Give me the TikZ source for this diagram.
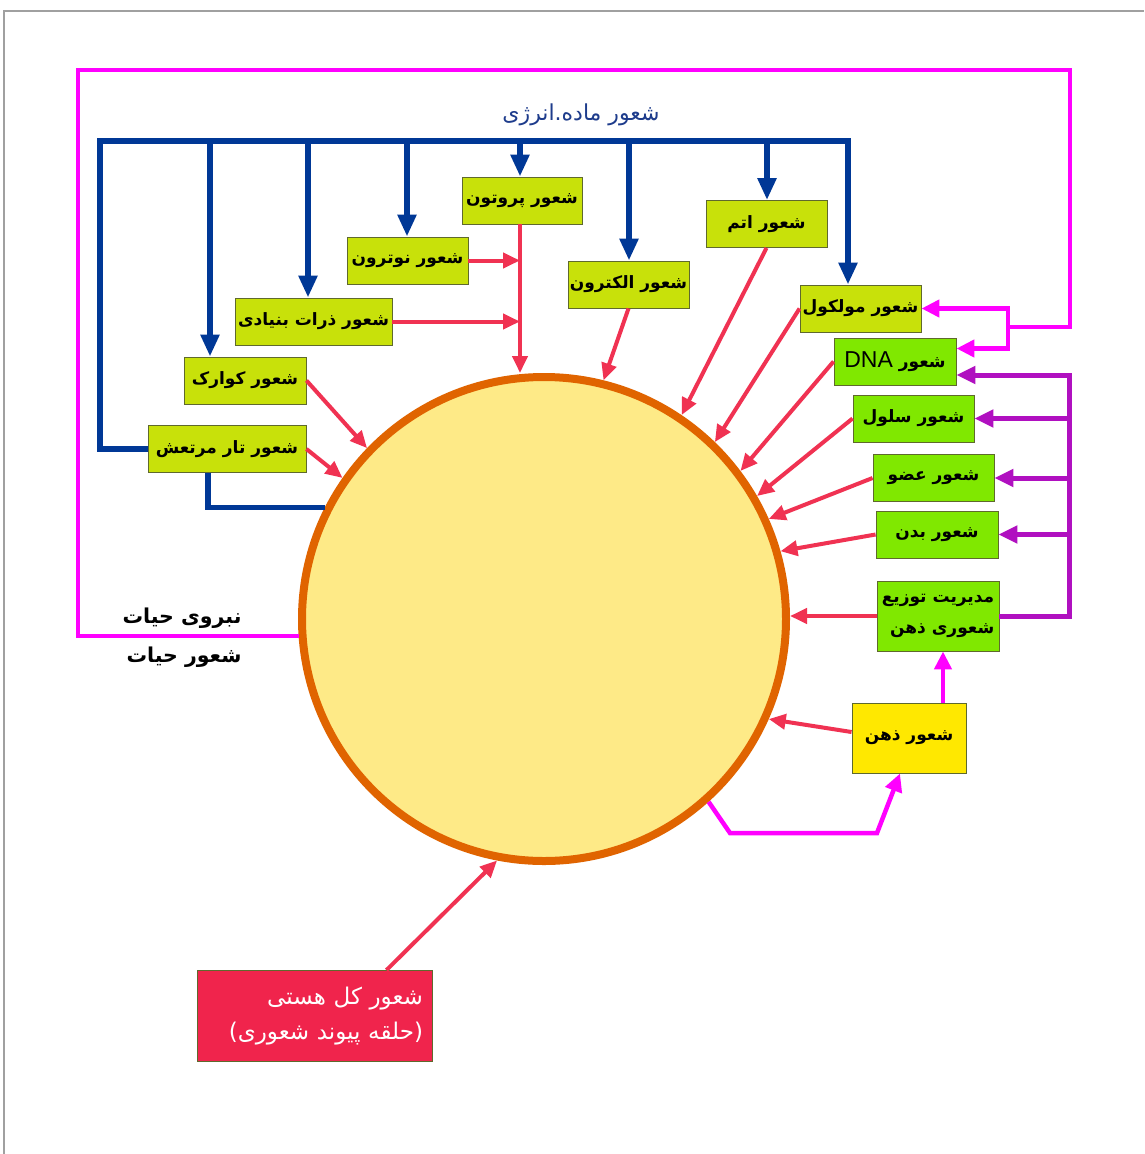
\documentclass[tikz,border=0pt]{standalone}
\usepackage{fontspec}
\TeXXeTstate=1
\newfontfamily\arabicfont[Script=Arabic]{DejaVu Sans}
\newfontfamily\latinfont{Liberation Sans}
\usetikzlibrary{arrows.meta}

\definecolor{limebox}{RGB}{200,225,10}
\definecolor{greenbox}{RGB}{128,232,0}
\definecolor{mindbox}{RGB}{255,232,0}
\definecolor{rootbox}{RGB}{240,36,76}
\definecolor{boxline}{RGB}{95,105,45}
\definecolor{busblue}{RGB}{0,56,150}
\definecolor{titleblue}{RGB}{30,60,140}
\definecolor{flowred}{RGB}{240,50,82}
\definecolor{lifemag}{RGB}{255,0,255}
\definecolor{purp}{RGB}{176,16,192}
\definecolor{ring}{RGB}{224,100,0}
\definecolor{corefill}{RGB}{254,234,135}
\definecolor{framegray}{RGB}{160,160,160}

\newcommand\farsi[1]{\beginR#1\endR}

\tikzset{
  box/.style={draw=boxline, line width=0.9pt, minimum height=47pt, inner sep=1.5pt,
    text=black, font=\arabicfont\bfseries\fontsize{17}{20}\selectfont},
  limeb/.style={box, fill=limebox},
  greenb/.style={box, fill=greenbox},
  bus/.style={draw=busblue, line width=5.5pt},
  busarrow/.style={bus, -{Triangle[length=22pt,width=18pt]}},
  redarrow/.style={draw=flowred, line width=4pt, -{Triangle[length=17pt,width=15pt]}},
  magline/.style={draw=lifemag, line width=4.5pt},
  magarrow/.style={magline, -{Triangle[length=18pt,width=17pt]}},
  purpline/.style={draw=purp, line width=5pt},
  purparrow/.style={purpline, -{Triangle[length=19pt,width=17pt]}},
}

\begin{document}
\begin{tikzpicture}[x=1pt,y=-1pt]
\useasboundingbox (0,0) rectangle (1144,1154);
\fill[white] (0,0) rectangle (1144,1154);
\draw[framegray, line width=1.5pt] (4,1154) -- (4,11) -- (1144,11);

% central sphere
\node[circle, draw=ring, fill=corefill, line width=8pt, minimum size=484pt, inner sep=0pt] (core) at (544,619) {};

% title of the matter-energy bus
\node[text=titleblue, font=\arabicfont\fontsize{22}{26}\selectfont] (title) at (581,115) {\farsi{شعور ماده.انرژی}};

% upper-left boxes
\node[limeb, minimum width=120pt] (proton) at (522,200.5) {\farsi{شعور پروتون}};
\node[limeb, minimum width=121pt] (neutron) at (407.5,260.5) {\farsi{شعور نوترون}};
\node[limeb, minimum width=157pt] (dharat) at (313.5,321.5) {\farsi{شعور ذرات بنیادی}};
\node[limeb, minimum width=122pt] (quark) at (245,380.5) {\farsi{شعور کوارک}};
\node[limeb, minimum width=158pt] (tar) at (227,449) {\farsi{شعور تار مرتعش}};
\node[limeb, minimum width=121pt] (electron) at (628.5,284.5) {\farsi{شعور الکترون}};
\node[limeb, minimum width=121pt] (atom) at (766.5,224) {\farsi{شعور اتم}};
\node[limeb, minimum width=121pt] (mol) at (860.5,308.5) {\farsi{شعور مولکول}};

% right-hand boxes
\node[greenb, minimum width=122pt] (dna) at (895,361.5) {\farsi{شعور \beginL{\latinfont\mdseries\fontsize{23}{23}\selectfont DNA}\endL}};
\node[greenb, minimum width=121pt] (cell) at (913.5,418.5) {\farsi{شعور سلول}};
\node[greenb, minimum width=121pt] (organ) at (933.5,478) {\farsi{شعور عضو}};
\node[greenb, minimum width=122pt] (body) at (937,534.5) {\farsi{شعور بدن}};
\node[greenb, minimum width=122pt, minimum height=70pt, align=right,
      font=\arabicfont\bfseries\fontsize{17}{31}\selectfont] (mgmt) at (938,616)
      {\farsi{مدیریت توزیع}\\\farsi{شعوری ذهن}};
\node[box, fill=mindbox, minimum width=114pt, minimum height=70pt] (zehn) at (909,738) {\farsi{شعور ذهن}};

% root box
\node[draw=boxline, line width=0.9pt, fill=rootbox, text=white, text width=217pt, inner xsep=9pt,
      minimum height=91pt, align=right, font=\arabicfont\fontsize{23}{35}\selectfont] (kol) at (314.5,1016)
      {\farsi{شعور کل هستی}\\\farsi{(حلقه پیوند شعوری)}};

% left labels
\node[anchor=east, font=\arabicfont\bfseries\fontsize{20.5}{24}\selectfont] (lifeforce) at (245,618) {\farsi{نبروی حیات}};
\node[anchor=east, font=\arabicfont\bfseries\fontsize{20.5}{24}\selectfont] (lifecons) at (245,657) {\farsi{شعور حیات}};

% blue matter-energy bus
\coordinate (bL) at (100,141);
\coordinate (bR) at (848,141);
\draw[busarrow] (tar.west) -| (bL) -- (bR) -- (bR |- mol.north);
\path ([xshift=-35pt]quark.north) coordinate (qt)
      ([xshift=-5.5pt]dharat.north) coordinate (zt)
      ([xshift=-0.5pt]neutron.north) coordinate (nt)
      ([xshift=-2pt]proton.north) coordinate (pt)
      ([xshift=0.5pt]electron.north) coordinate (et)
      ([xshift=0.5pt]atom.north) coordinate (at);
\foreach \c in {qt,zt,nt,pt,et,at}
  \draw[busarrow] (\c |- bL) -- (\c);
\draw[bus] ([xshift=-19pt]tar.south) |- (core.153);

% red flows into the sphere
\draw[redarrow] ([xshift=-2pt]proton.south) -- ([xshift=-2pt]proton.south |- core.north);
\draw[redarrow, shorten >=2pt] (neutron.east) -- (neutron.east -| proton.south);
\draw[redarrow, shorten >=2pt] (dharat.east) -- (dharat.east -| proton.south);
\draw[redarrow] (electron.south) -- (core.76);
\draw[redarrow] (atom.south) -- (core.56);
\draw[redarrow] (mol.west) -- (core.46);
\draw[redarrow] (dna.west) -- (core.37);
\draw[redarrow] (cell.west) -- (core.30);
\draw[redarrow] (organ.west) -- (core.24);
\draw[redarrow] (body.west) -- (core.16);
\draw[redarrow] (mgmt.west) -- (mgmt.west -| core.east);
\draw[redarrow] ([yshift=6pt]zehn.west) -- (core.-24);
\draw[redarrow] (quark.east) -- (core.136);
\draw[redarrow] (tar.east) -- (core.145);
\draw[redarrow] ([xshift=72pt]kol.north) -- (core.259);

% magenta life-force loop
\coordinate (mTL) at (78,70);
\coordinate (mTR) at (1070,70);
\coordinate (mJ) at (1070,327);
\coordinate (mB) at (1008,327);
\draw[magline] (core.184) -| (mTL) -- (mTR) -- (mJ) -- (mB);
\draw[magarrow] (mB) |- (mol.east);
\draw[magarrow] (mB) |- ([yshift=13pt]dna.east);
\coordinate (mz1) at (730,833);
\coordinate (mz2) at (877,833);
\draw[magarrow] (core.312) -- (mz1) -- (mz2) -- ([xshift=-9pt]zehn.south);
\path ([xshift=34pt]zehn.north) coordinate (zn);
\draw[magarrow] (zn) -- (zn |- mgmt.south);

% purple distribution bus
\coordinate (pB) at (1069,616);
\coordinate (pT) at (1069,375);
\draw[purparrow] (mgmt.east) -- (pB) -- (pT) -- (pT -| dna.east);
\draw[purparrow] (cell.east -| pB) -- (cell.east);
\draw[purparrow] (organ.east -| pB) -- (organ.east);
\draw[purparrow] (body.east -| pB) -- (body.east);
\end{tikzpicture}
\end{document}
